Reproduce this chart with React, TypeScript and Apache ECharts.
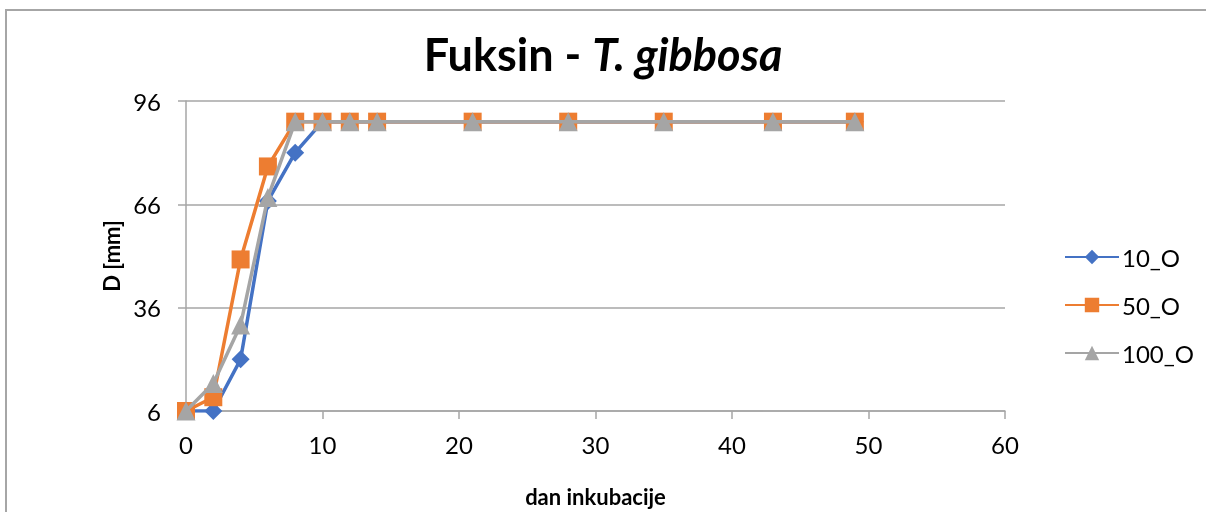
import React, { useEffect, useRef } from "react";
import * as echarts from "echarts";

const days = [0, 2, 4, 6, 8, 10, 12, 14, 21, 28, 35, 43, 49];
const s10 = [6, 6, 21, 67, 81, 90, 90, 90, 90, 90, 90, 90, 90];
const s50 = [6, 10, 50, 77, 90, 90, 90, 90, 90, 90, 90, 90, 90];
const s100 = [6, 14, 31, 68, 90, 90, 90, 90, 90, 90, 90, 90, 90];
const seriesNames = ["10_O", "50_O", "100_O"];
const colors = ["#4472C4", "#ED7D31", "#A5A5A5"];

const FONT = "Lato, 'Open Sans', sans-serif";

export default function App() {
  const ref = useRef<HTMLDivElement>(null);
  useEffect(() => {
    document.body.style.margin = "0";
    const chart = echarts.init(ref.current!, null, { renderer: "svg" });
    const pair = (ys: number[]) => days.map((d, i) => [d, ys[i]]);
    const symbols = ["diamond", "rect", "triangle"];
    const sizes = [18, 18, 19];
    const data = [s10, s50, s100];
    chart.setOption({
      animation: false,
      textStyle: { fontFamily: FONT },
      title: {
        text: "{b|Fuksin - }{i|T. gibbosa}",
        left: "center",
        top: 26,
        textStyle: {
          rich: {
            b: { fontFamily: FONT, fontSize: 45, fontWeight: "bold", color: "#000" },
            i: { fontFamily: FONT, fontSize: 45, fontWeight: "bold", fontStyle: "italic", color: "#000" },
          },
        },
      },
      graphic: [
        {
          type: "rect",
          shape: { x: 6, y: 10, width: 1400, height: 700 },
          style: { fill: "none", stroke: "#A6A6A6", lineWidth: 2 },
          silent: true,
        },
      ],
      legend: {
        orient: "vertical",
        left: 1059,
        top: 240,
        itemWidth: 54,
        itemHeight: 18,
        itemGap: 24,
        textStyle: { fontFamily: FONT, fontSize: 24, color: "#000", padding: [0, 0, 0, -2] },
        data: seriesNames,
      },
      grid: { left: 186, right: 201, top: 101, bottom: 97 },
      xAxis: {
        type: "value",
        min: 0,
        max: 60,
        interval: 10,
        name: "dan inkubacije",
        nameLocation: "middle",
        nameGap: 74,
        nameTextStyle: { fontFamily: FONT, fontSize: 22, fontWeight: "bold", color: "#000" },
        axisLine: { show: true, lineStyle: { color: "#A6A6A6", width: 1.5 } },
        axisTick: { show: true, length: 8, lineStyle: { color: "#A6A6A6", width: 1.5 } },
        axisLabel: { fontFamily: FONT, fontSize: 24, color: "#000", margin: 21 },
        splitLine: { show: false },
      },
      yAxis: {
        type: "value",
        min: 6,
        max: 96,
        interval: 30,
        name: "D [mm]",
        nameLocation: "middle",
        nameGap: 64,
        nameRotate: 90,
        nameTextStyle: { fontFamily: FONT, fontSize: 22, fontWeight: "bold", color: "#000" },
        axisLine: { show: true, lineStyle: { color: "#A6A6A6", width: 1.5 } },
        axisTick: { show: true, length: 8, lineStyle: { color: "#A6A6A6", width: 1.5 } },
        axisLabel: { fontFamily: FONT, fontSize: 24, color: "#000", margin: 25 },
        splitLine: { show: true, lineStyle: { color: "#A6A6A6", width: 1.5 } },
      },
      series: seriesNames.map((name, i) => ({
        name,
        type: "line",
        data: pair(data[i]),
        symbol: symbols[i],
        symbolSize: sizes[i],
        showSymbol: true,
        lineStyle: { color: colors[i], width: 3.5 },
        itemStyle: { color: colors[i] },
        color: colors[i],
        z: 2 + i,
      })),
    });
    return () => chart.dispose();
  }, []);
  return (
    <div
      ref={ref}
      style={{ position: "fixed", left: 0, top: 0, width: 1206, height: 512 }}
    />
  );
}
